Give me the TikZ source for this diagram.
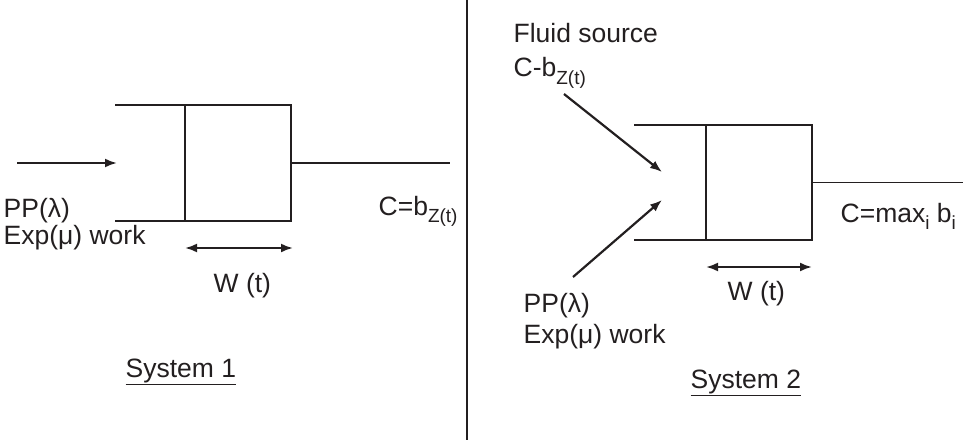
\documentclass[tikz,border=0pt]{standalone}
\usepackage{fontspec}
\setmainfont{Liberation Sans}
\usetikzlibrary{arrows.meta}
\definecolor{ink}{RGB}{35,31,32}
\newcommand{\mysub}[1]{\raisebox{-7pt}{\fontsize{19}{19}\selectfont #1}}
\begin{document}
\begin{tikzpicture}[x=1pt,y=-1pt,line width=1.3pt,color=ink,
  txt/.style={font=\fontsize{26.5}{30}\selectfont, inner sep=0pt, anchor=base west, text=ink},
  arr/.style={line width=2.2pt,-{Latex[length=12pt,width=9pt]}},
  darr/.style={line width=2.2pt,{Latex[length=12pt,width=9pt]}-{Latex[length=12pt,width=9pt]}},
  srv/.style={draw, minimum width=106pt, minimum height=116pt, inner sep=0pt, outer sep=0pt, anchor=north west}]
\useasboundingbox (0,0) rectangle (963,444);
% ---------- System 1 ----------
\node[srv] (srv1) at (185,105) {};
\coordinate (q1t) at (115,105);
\coordinate (q1b) at (115,221);
\draw (q1t) -- (srv1.north west);
\draw (q1b) -- (srv1.south west);
\coordinate (out1) at (450,163);
\draw (srv1.east) -- (out1);
\coordinate (in1s) at (17,163);
\coordinate (in1e) at (117,163);
\draw[arr] (in1s) -- (in1e);
\coordinate (w1a) at (185,248);
\coordinate (w1b) at (293,248);
\draw[darr] (w1a) -- (w1b);
\node[txt] (pp1) at (3,217) {PP(λ)};
\node[txt] (exp1) at (3,244) {Exp(μ) work};
\node[txt] (wt1) at (213,292) {W (t)};
\node[txt] (c1) at (378,215) {C=b\mysub{Z(t)}};
\node[txt] (sys1) at (125,377) {\underline{System 1}};
% ---------- divider ----------
\coordinate (d1) at (467,0);
\coordinate (d2) at (467,440);
\draw[line width=1.5pt] (d1) -- (d2);
% ---------- System 2 ----------
\node[srv, minimum height=115pt] (srv2) at (706,125) {};
\coordinate (q2t) at (634,125);
\coordinate (q2b) at (634,240);
\draw (q2t) -- (srv2.north west);
\draw (q2b) -- (srv2.south west);
\coordinate (out2) at (963,182.5);
\draw (srv2.east) -- (out2);
\coordinate (f1s) at (564,94);
\coordinate (f1e) at (662,172);
\draw[arr] (f1s) -- (f1e);
\coordinate (p1s) at (573,277);
\coordinate (p1e) at (662,200);
\draw[arr] (p1s) -- (p1e);
\coordinate (w2a) at (706,267);
\coordinate (w2b) at (812,267);
\draw[darr] (w2a) -- (w2b);
\node[txt] (fs) at (513,42) {Fluid source};
\node[txt] (cb) at (513,77) {C-b\mysub{Z(t)}};
\node[txt] (c2) at (840,222) {C=max\mysub{i} b\mysub{i}};
\node[txt] (wt2) at (727,300) {W (t)};
\node[txt] (pp2) at (523,312) {PP(λ)};
\node[txt] (exp2) at (523,343) {Exp(μ) work};
\node[txt] (sys2) at (690,388) {\underline{System 2}};
\end{tikzpicture}
\end{document}
